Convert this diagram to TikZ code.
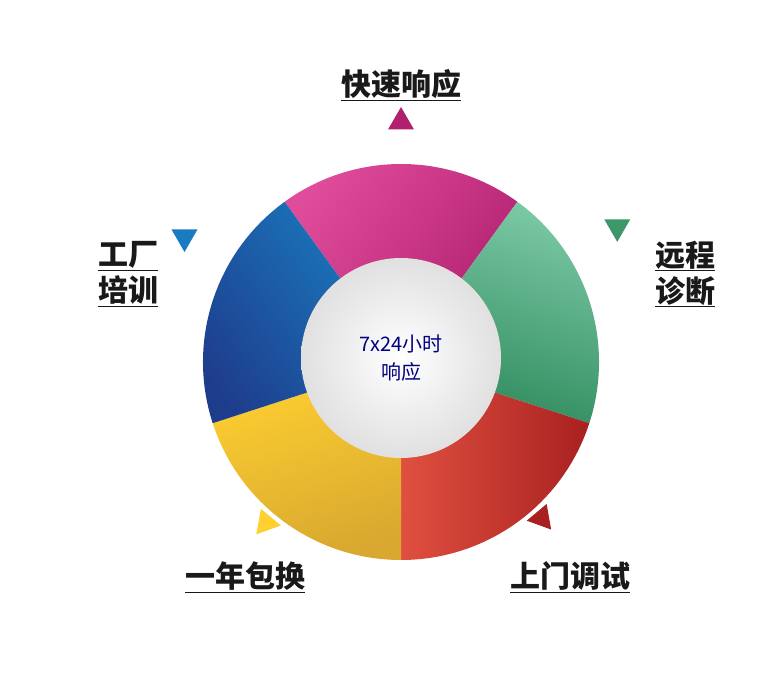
\documentclass[tikz,border=0pt]{standalone}
\usepackage{fontspec}
\setmainfont{Noto Sans CJK SC}
\newfontfamily\cjkb[BoldFont={* Black}]{Noto Sans CJK SC}
\usetikzlibrary{shapes.geometric,calc}
\definecolor{pkA}{HTML}{E04C9C}\definecolor{pkB}{HTML}{B0206E}
\definecolor{gnA}{HTML}{7CC9A6}\definecolor{gnB}{HTML}{2E8A5C}
\definecolor{rdA}{HTML}{A82020}\definecolor{rdB}{HTML}{E05040}
\definecolor{ylA}{HTML}{D8A830}\definecolor{ylB}{HTML}{FFD030}
\definecolor{blA}{HTML}{1E3C8C}\definecolor{blB}{HTML}{1A7CC0}
\tikzset{
  lbl/.style={font=\cjkb\bfseries\fontsize{30}{34}\selectfont, align=left, text=black!90},
  tri/.style={regular polygon, regular polygon sides=3, minimum size=30pt, inner sep=0pt}
}
\newcommand{\ul}[1]{\underline{#1}}
\begin{document}
\begin{tikzpicture}[x=1pt,y=1pt]
\useasboundingbox (0,0) rectangle (771,686);
\coordinate (c) at (401,324);
\def\R{198}
\foreach \a/\cA/\cB in {54/pkA/pkB, -18/gnA/gnB, -90/rdA/rdB, 198/ylA/ylB, 126/blA/blB}{
  \shade[left color=\cA, right color=\cB, shading angle=\a] (c) -- ++(\a:\R) arc[start angle=\a, end angle=\a+72, radius=\R] -- cycle;
}
\shade[inner color=white, outer color=black!12] (401,328) circle (100);
\node[text=blue!50!black, font=\fontsize{20}{28}\selectfont, align=center] (t) at (401,328) {7x24小时\\响应};
\node[tri, fill=pkB, rotate=0] (t1) at ($(c)+(90:240)$) {};
\node[tri, fill=gnB!80!gnA, rotate=-60] (t2) at ($(c)+(32:255)$) {};
\node[tri, fill=blB, rotate=60] (t3) at ($(c)+(150:250)$) {};
\node[tri, fill=ylB, rotate=140] (t4) at ($(c)+(230:210)$) {};
\node[tri, fill=rdA, rotate=220] (t5) at ($(c)+(312:210)$) {};
\node[lbl] (l1) at (401,601) {\ul{快速响应}};
\node[lbl] (l2) at (685,412) {\ul{远程}\\[2pt]\ul{诊断}};
\node[lbl] (l3) at (128,412) {\ul{工厂}\\[2pt]\ul{培训}};
\node[lbl] (l4) at (245,109) {\ul{一年包换}};
\node[lbl] (l5) at (570,109) {\ul{上门调试}};
\end{tikzpicture}
\end{document}
